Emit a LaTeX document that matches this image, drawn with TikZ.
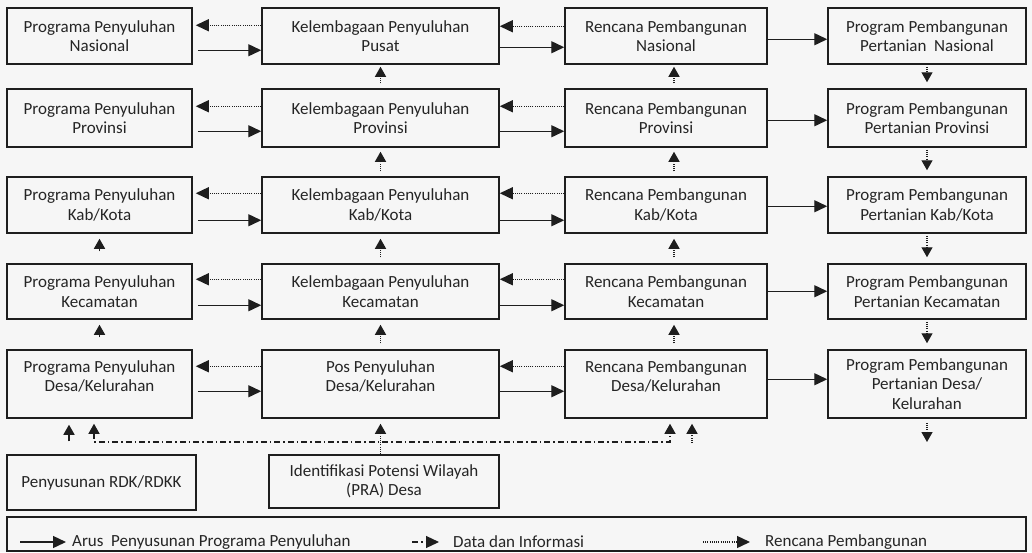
\documentclass[tikz,border=0pt]{standalone}
\usepackage{fontspec}
\setmainfont{Carlito}
\usetikzlibrary{arrows.meta}
\definecolor{garis}{HTML}{1E1E1E}
\definecolor{teks}{HTML}{252525}
\definecolor{latar}{HTML}{F6F6F6}

\begin{document}
\begin{tikzpicture}[x=1pt,y=-1pt,
  box/.style={draw=garis, line width=1.5pt, align=center, inner sep=0pt, text=teks,
    font=\fontsize{17}{19.5}\selectfont},
  kol1/.style={box, minimum width=185pt},
  kol2/.style={box, minimum width=237pt},
  kol3/.style={box, minimum width=202pt},
  kol4/.style={box, minimum width=198pt},
  arus/.style={draw=garis, line width=1.4pt, -{Triangle[length=13pt,width=12pt]}},
  rp/.style={draw=garis, line width=1.3pt, dash pattern=on 1pt off 1.2pt, -{Triangle[length=13pt,width=12pt]}},
  data/.style={draw=garis, line width=1.2pt, dash pattern=on 6pt off 3pt on 1.5pt off 3pt},
  kecil/.style={-{Triangle[length=10pt,width=11pt]}},
  ket/.style={anchor=west, inner sep=0pt, text=teks, font=\fontsize{17}{19.5}\selectfont}
]

\fill[latar] (0,0) rectangle (1032,552);

% baris nasional
\node[kol1, minimum height=56pt] (p1) at (99.5,36) {Programa Penyuluhan\\Nasional};
\node[kol2, minimum height=56pt] (k1) at (380.5,36) {Kelembagaan Penyuluhan\\Pusat};
\node[kol3, minimum height=56pt] (r1) at (666,36) {Rencana Pembangunan\\Nasional};
\node[kol4, minimum height=56pt] (q1) at (927,36) {Program Pembangunan\\Pertanian\ \ Nasional};

% baris provinsi
\node[kol1, minimum height=58pt] (p2) at (99.5,118) {Programa Penyuluhan\\Provinsi};
\node[kol2, minimum height=58pt] (k2) at (380.5,118) {Kelembagaan Penyuluhan\\Provinsi};
\node[kol3, minimum height=58pt] (r2) at (666,118) {Rencana Pembangunan\\Provinsi};
\node[kol4, minimum height=58pt] (q2) at (927,118) {Program Pembangunan\\Pertanian Provinsi};

% baris kab/kota
\node[kol1, minimum height=56pt] (p3) at (99.5,205) {Programa Penyuluhan\\Kab/Kota};
\node[kol2, minimum height=56pt] (k3) at (380.5,205) {Kelembagaan Penyuluhan\\Kab/Kota};
\node[kol3, minimum height=56pt] (r3) at (666,205) {Rencana Pembangunan\\Kab/Kota};
\node[kol4, minimum height=56pt] (q3) at (927,205) {Program Pembangunan\\Pertanian Kab/Kota};

% baris kecamatan
\node[kol1, minimum height=55pt] (p4) at (99.5,291.5) {Programa Penyuluhan\\Kecamatan};
\node[kol2, minimum height=55pt] (k4) at (380.5,291.5) {Kelembagaan Penyuluhan\\Kecamatan};
\node[kol3, minimum height=55pt] (r4) at (666,291.5) {Rencana Pembangunan\\Kecamatan};
\node[kol4, minimum height=55pt] (q4) at (927,291.5) {Program Pembangunan\\Pertanian Kecamatan};

% baris desa
\node[kol1, minimum height=68pt, text depth=16pt] (p5) at (99.5,384) {Programa Penyuluhan\\Desa/Kelurahan};
\node[kol2, minimum height=68pt, text depth=16pt] (k5) at (380.5,384) {Pos Penyuluhan\\Desa/Kelurahan};
\node[kol3, minimum height=68pt, text depth=16pt] (r5) at (666,384) {Rencana Pembangunan\\Desa/Kelurahan};
\node[kol4, minimum height=68pt] (q5) at (927,384) {Program Pembangunan\\Pertanian Desa/\\Kelurahan};

\node[box, minimum width=189pt, minimum height=55pt] (rdk) at (101.5,482.5) {Penyusunan RDK/RDKK};
\node[box, minimum width=230pt, minimum height=53pt] (pra) at (384,481.5) {Identifikasi Potensi Wilayah\\(PRA) Desa};

% panah mendatar
\draw[rp, shorten >=3pt] ([yshift=-18pt]k1.north west) -- ([yshift=-18pt]p1.north east);
\draw[arus, shorten <=5pt] ([yshift=-43pt]p1.north east) -- ([yshift=-43pt]k1.north west);
\draw[rp] ([yshift=-19pt]r1.north west) -- ([yshift=-19pt]k1.north east);
\draw[arus] ([yshift=-40pt]k1.north east) -- ([yshift=-40pt]r1.north west);
\draw[arus] ([yshift=-32pt]r1.north east) -- ([yshift=-32pt]q1.north west);

\draw[rp, shorten >=3pt] ([yshift=-18pt]k2.north west) -- ([yshift=-18pt]p2.north east);
\draw[arus, shorten <=5pt] ([yshift=-43pt]p2.north east) -- ([yshift=-43pt]k2.north west);
\draw[rp] ([yshift=-18pt]r2.north west) -- ([yshift=-18pt]k2.north east);
\draw[arus] ([yshift=-43pt]k2.north east) -- ([yshift=-43pt]r2.north west);
\draw[arus] ([yshift=-32pt]r2.north east) -- ([yshift=-32pt]q2.north west);

\draw[rp, shorten >=3pt] ([yshift=-17pt]k3.north west) -- ([yshift=-17pt]p3.north east);
\draw[arus, shorten <=5pt] ([yshift=-44pt]p3.north east) -- ([yshift=-44pt]k3.north west);
\draw[rp] ([yshift=-17pt]r3.north west) -- ([yshift=-17pt]k3.north east);
\draw[arus] ([yshift=-44pt]k3.north east) -- ([yshift=-44pt]r3.north west);
\draw[arus] ([yshift=-30pt]r3.north east) -- ([yshift=-30pt]q3.north west);

\draw[rp, shorten >=3pt] ([yshift=-16pt]k4.north west) -- ([yshift=-16pt]p4.north east);
\draw[arus, shorten <=5pt] ([yshift=-42pt]p4.north east) -- ([yshift=-42pt]k4.north west);
\draw[rp] ([yshift=-16pt]r4.north west) -- ([yshift=-16pt]k4.north east);
\draw[arus] ([yshift=-42pt]k4.north east) -- ([yshift=-42pt]r4.north west);
\draw[arus] ([yshift=-28pt]r4.north east) -- ([yshift=-28pt]q4.north west);

\draw[rp, shorten >=3pt] ([yshift=-17pt]k5.north west) -- ([yshift=-17pt]p5.north east);
\draw[arus, shorten <=5pt] ([yshift=-42pt]p5.north east) -- ([yshift=-42pt]k5.north west);
\draw[rp] ([yshift=-17pt]r5.north west) -- ([yshift=-17pt]k5.north east);
\draw[arus] ([yshift=-42pt]k5.north east) -- ([yshift=-42pt]r5.north west);
\draw[arus] ([yshift=-30pt]r5.north east) -- ([yshift=-30pt]q5.north west);

% panah tegak
\draw[arus, kecil, shorten <=12pt, shorten >=5pt] (p4) -- (p3);
\draw[arus, kecil, shorten <=12pt, shorten >=5pt] (p5) -- (p4);

\draw[rp, kecil, shorten <=5pt, shorten >=2pt] (k2) -- (k1);
\draw[rp, kecil, shorten <=5pt, shorten >=4pt] (k3) -- (k2);
\draw[rp, kecil, shorten <=6pt, shorten >=5pt] (k4) -- (k3);
\draw[rp, kecil, shorten <=6pt, shorten >=5pt] (k5) -- (k4);

\draw[rp, kecil, shorten <=5pt, shorten >=2pt] ([xshift=8pt]r2.north) -- ([xshift=8pt]r1.south);
\draw[rp, kecil, shorten <=5pt, shorten >=4pt] ([xshift=8pt]r3.north) -- ([xshift=8pt]r2.south);
\draw[rp, kecil, shorten <=6pt, shorten >=5pt] ([xshift=8pt]r4.north) -- ([xshift=8pt]r3.south);
\draw[rp, kecil, shorten <=6pt, shorten >=5pt] ([xshift=8pt]r5.north) -- ([xshift=8pt]r4.south);

\draw[rp, kecil, shorten <=2pt, shorten >=6pt] (q1) -- (q2);
\draw[rp, kecil, shorten <=2pt, shorten >=6pt] (q2) -- (q3);
\draw[rp, kecil, shorten <=2pt, shorten >=6pt] (q3) -- (q4);
\draw[rp, kecil, shorten <=2pt, shorten >=6pt] (q4) -- (q5);

% bagian bawah
\coordinate (dl) at (94,442);
\coordinate (dr) at (670,442);
\coordinate (pr) at (692,443);
\coordinate (qe) at (927,442);

\draw[arus, kecil, shorten <=13pt, shorten >=6pt] ([xshift=-32.5pt]rdk.north) -- ([xshift=-30.5pt]p5.south);
\draw[data, {Triangle[length=10pt,width=11pt]}-{Triangle[length=10pt,width=11pt]}, shorten <=5pt, shorten >=5pt]
  (p5.south -| dl) -- (dl) -- (dr) -- (r5.south -| dr);
\draw[rp, kecil, shorten >=5pt] (pra.north -| k5.south) -- (k5.south);
\draw[rp, kecil, shorten >=5pt] (pr) -- (r5.south -| pr);
\draw[rp, kecil, shorten <=4pt] (q5.south) -- (qe);

% keterangan
\node[draw=garis, line width=1.5pt, minimum width=1019pt, minimum height=34pt, inner sep=0pt] (leg) at (516.5,534) {};
\coordinate (la) at (20,542);
\coordinate (lb) at (412,542);
\coordinate (lc) at (703,542);
\node[ket] (t1) at (72,542) {Arus\ \ Penyusunan Programa Penyuluhan};
\node[ket] (t2) at (453,542) {Data dan Informasi};
\node[ket] (t3) at (765,542) {Rencana Pembangunan};
\draw[arus, shorten >=6pt] (la) -- (t1);
\draw[data, -{Triangle[length=13pt,width=12pt]}, shorten >=14pt] (lb) -- (t2);
\draw[rp, shorten >=15pt] (lc) -- (t3);

\end{tikzpicture}
\end{document}
